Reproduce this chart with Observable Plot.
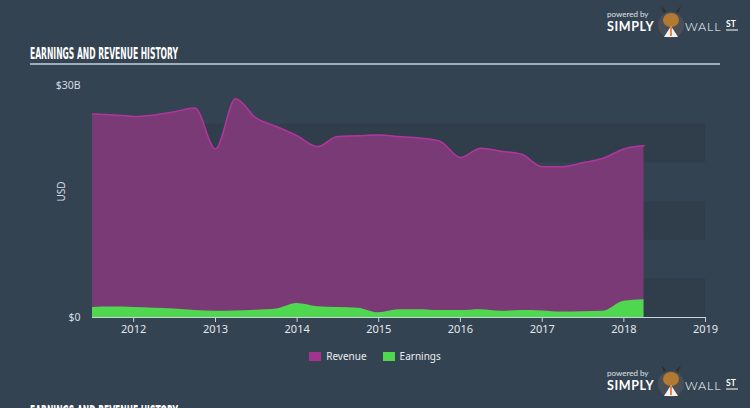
<!DOCTYPE html>
<html>
<head>
<meta charset="utf-8">
<script src="https://cdn.jsdelivr.net/npm/d3@7"></script>
<script src="https://cdn.jsdelivr.net/npm/@observablehq/plot@0.6"></script>
<style>
  html, body { margin: 0; padding: 0; }
  body { width: 750px; height: 408px; overflow: hidden; background: #344352; position: relative; font-family: "Open Sans", "DejaVu Sans", sans-serif; }
  #chart { position: absolute; left: 0; top: 0; }
  .abs { position: absolute; }
  .legend { position: absolute; top: 349px; left: 0; width: 750px; display: flex; justify-content: center; gap: 12px; color: #e8ecf0; font-size: 10px; font-family: "Noto Sans", "DejaVu Sans", sans-serif; }
  .legend span.item { display: flex; align-items: center; gap: 5px; }
  .legend span.sw { display: inline-block; width: 12px; height: 9px; }
</style>
</head>
<body>
<div id="chart"></div>
<svg class="abs" style="left:0;top:0" width="750" height="408" pointer-events="none">
  <defs>
    <g id="logo">
      <text x="0" y="0" font-size="8" fill="#dfe4ea" font-family="Lato, DejaVu Sans">powered by</text>
      <text x="0" y="14" font-size="12.5" font-weight="bold" fill="#ffffff" font-family="Lato, DejaVu Sans" letter-spacing="0.6">SIMPLY</text>
      <circle cx="64" cy="8" r="13" fill="#4a4f57"/>
      <ellipse cx="64" cy="3" rx="8" ry="7" fill="#b27a30"/>
      <path d="M57 -4 L54 -11 L59 -6 Z M71 -4 L74 -11 L69 -6 Z" fill="#3a2a1a"/>
      <path d="M57 20 L64 9 L71 20 Z" fill="#f2f2f2"/>
      <line x1="64" y1="10" x2="64" y2="19" stroke="#e0621d" stroke-width="1.5"/>
      <text x="78" y="14" font-size="12.5" fill="#ffffff" font-family="Lato, DejaVu Sans" font-weight="300" letter-spacing="0.8">WALL</text>
      <text x="119" y="10" font-size="8.5" font-weight="bold" fill="#ffffff" font-family="Lato, DejaVu Sans">ST</text>
      <line x1="119" x2="131" y1="13" y2="13" stroke="#ffffff" stroke-width="1"/>
    </g>
  </defs>
  <text x="30" y="59" font-family="DejaVu Sans Condensed, DejaVu Sans" font-weight="bold" font-size="16" fill="#ffffff" textLength="148" lengthAdjust="spacingAndGlyphs">EARNINGS AND REVENUE HISTORY</text>
  <line x1="30" x2="720" y1="64" y2="64" stroke="#c9d1da" stroke-width="1.3"/>
  <text x="30" y="417" font-family="DejaVu Sans Condensed, DejaVu Sans" font-weight="bold" font-size="16" fill="#ffffff" textLength="148" lengthAdjust="spacingAndGlyphs">EARNINGS AND REVENUE HISTORY</text>
  <use href="#logo" x="607" y="17"/>
  <use href="#logo" x="607" y="376"/>
</svg>
<div class="legend">
  <span class="item"><span class="sw" style="background:#a4338f"></span>Revenue</span>
  <span class="item" style="margin-left:4px"><span class="sw" style="background:#4fd84f"></span>Earnings</span>
</div>
<script>
// Quarterly periods
const dates = [
  "2011-07-01","2011-10-01","2012-01-01","2012-04-01","2012-07-01","2012-10-01",
  "2013-01-01","2013-04-01","2013-07-01","2013-10-01","2014-01-01","2014-04-01",
  "2014-07-01","2014-10-01","2015-01-01","2015-04-01","2015-07-01","2015-10-01",
  "2016-01-01","2016-04-01","2016-07-01","2016-10-01","2017-01-01","2017-04-01",
  "2017-07-01","2017-10-01","2018-01-01","2018-04-01"
];
// USD billions
const revenue = [
  26.3, 26.2, 26.0, 26.2, 26.6, 27.1,
  21.8, 28.3, 25.8, 24.7, 23.5, 22.1,
  23.4, 23.5, 23.6, 23.4, 23.2, 22.8,
  20.7, 21.9, 21.5, 21.1, 19.5, 19.5,
  20.0, 20.6, 21.8, 22.2
];
const earnings = [
  1.3, 1.35, 1.3, 1.2, 1.1, 0.9,
  0.8, 0.85, 0.95, 1.1, 1.8, 1.4,
  1.3, 1.2, 0.6, 1.0, 1.0, 0.9,
  0.9, 1.0, 0.8, 0.9, 0.85, 0.7,
  0.75, 0.8, 2.1, 2.3
];
const yearTicks = ["2012","2013","2014","2015","2016","2017","2018","2019"];
const yTicks = [0, 30];
const bands = [[0,5],[10,15],[20,25]];

const rows = dates.map((d, i) => ({date: new Date(d), revenue: revenue[i], earnings: earnings[i]}));
const bandRows = bands.map(([a, b]) => ({y1: a, y2: b}));
const xStart = new Date(dates[0]);
const xEnd = new Date("2019-01-01");

const chart = Plot.plot({
  width: 750,
  height: 408,
  marginLeft: 92,
  marginRight: 45,
  marginTop: 85,
  marginBottom: 91,
  style: {background: "transparent", color: "#d5dbe2", fontSize: "10.5px", fontFamily: "Noto Sans, DejaVu Sans, sans-serif"},
  x: {type: "utc", domain: [xStart, xEnd]},
  y: {domain: [0, 30]},
  marks: [
    Plot.rect(bandRows, {x1: xStart, x2: xEnd, y1: "y1", y2: "y2", fill: "#303d4b"}),
    Plot.areaY(rows, {x: "date", y: "revenue", fill: "#7a3a76", curve: "monotone-x"}),
    Plot.lineY(rows, {x: "date", y: "revenue", stroke: "#b0359c", strokeWidth: 1.5, curve: "monotone-x"}),
    Plot.areaY(rows, {x: "date", y: "earnings", fill: "#4fd84f", curve: "monotone-x"}),
    Plot.ruleY([0], {x1: xStart, x2: xEnd, stroke: "#c9d1da", strokeWidth: 1.2}),
    Plot.axisX(yearTicks.map(t => new Date(t + "-01-01")), {tickSize: 5, tickPadding: 3, stroke: "#c9d1da", tickFormat: d => String(d.getUTCFullYear()), fill: "#e3e7ec", fontSize: 11}),
    Plot.axisY(yTicks, {tickSize: 0, tickPadding: 12, tickFormat: d => d === 0 ? "$0" : `$${d}B`, fill: "#d5dbe2", fontSize: 10.5, label: null}),
    Plot.text(["USD"], {frameAnchor: "left", dx: -31, rotate: -90, fill: "#d5dbe2", fontSize: 10})
  ]
});
document.getElementById("chart").appendChild(chart);
</script>
</body>
</html>
